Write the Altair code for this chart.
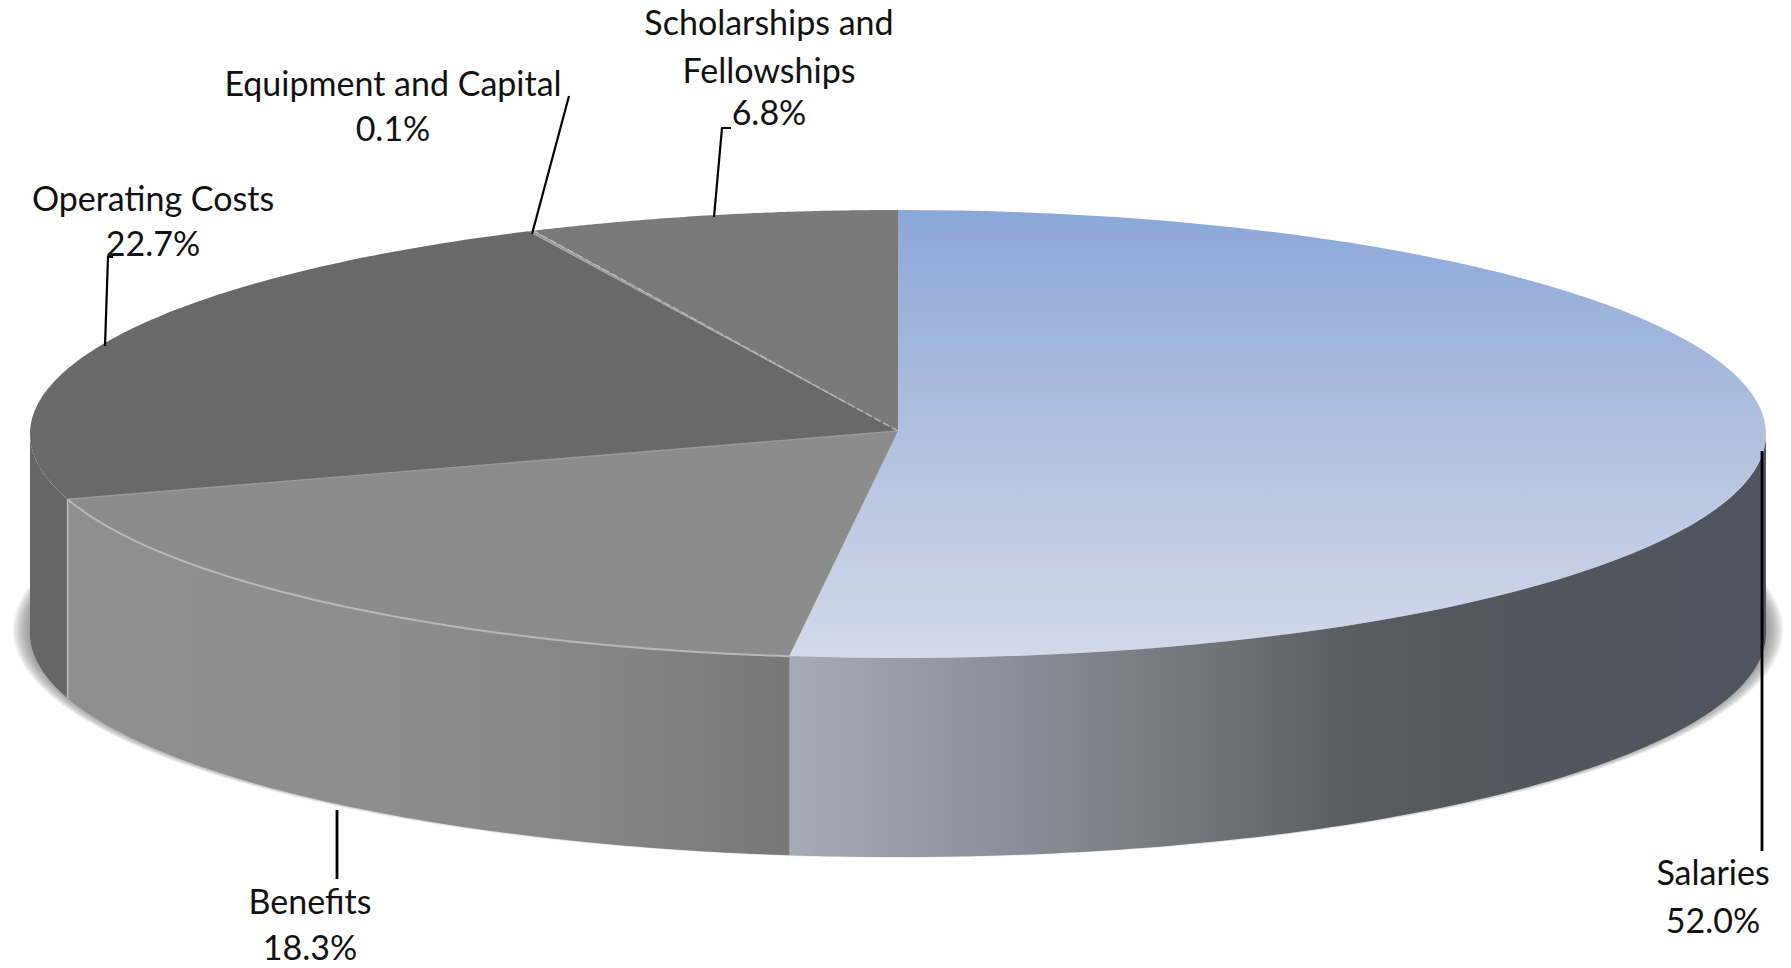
import numpy as np
import pandas as pd
import altair as alt

# --- chart data (clockwise from 12 o'clock) ---
categories = ["Salaries", "Benefits", "Operating Costs", "Equipment and Capital", "Scholarships and Fellowships"]
shares = [52.0, 18.3, 22.7, 0.1, 6.8]
label_lines = [["Salaries"], ["Benefits"], ["Operating Costs"], ["Equipment and Capital"], ["Scholarships and", "Fellowships"]]

# --- layout, kept apart from the data ---
CX, CY, RX, RY, DEPTH, APEX_Y = 898.0, 434.0, 868.0, 224.0, 199.0, 431.0
label_anchor = [(1713, [885, 933]), (310, [914, 960]), (153, [211, 256]), (393, [96, 141]), (769, [35, 83, 125])]
leaders = [
    [(1762, 451), (1762, 851)],
    [(337, 810), (337, 879)],
    [(105, 346), (108, 257), (113, 257)],
    [(532, 234), (569, 96)],
    [(714, 217), (722, 128), (731, 128)],
]

X = alt.X("x:Q", scale=alt.Scale(domain=[8, 1783]), axis=None)
Y = alt.Y("y:Q", scale=alt.Scale(domain=[968, 8]), axis=None)


def rim(a, b, dy=0.0, rx=RX, ry=RY, cy=CY, n=90):
    t = np.radians(np.linspace(a, b, n))
    return list(zip(CX + rx * np.sin(t), cy - ry * np.cos(t) + dy))


def shape(points, fill, opacity=1.0, stroke=None, width=0.0):
    df = pd.DataFrame(points, columns=["x", "y"])
    df["i"] = range(len(df))
    kw = dict(fill=fill, strokeWidth=width, opacity=opacity)
    if stroke:
        kw["stroke"] = stroke
    return alt.Chart(df).mark_line(**kw).encode(x=X, y=Y, order="i:Q")


def path(points, color, width=2.0, dash=None):
    df = pd.DataFrame(points, columns=["x", "y"])
    df["i"] = range(len(df))
    kw = dict(color=color, strokeWidth=width)
    if dash:
        kw["strokeDash"] = dash
    return alt.Chart(df).mark_line(**kw).encode(x=X, y=Y, order="i:Q")


def hgrad(stops):
    return alt.Gradient(gradient="linear", x1=0, x2=1, y1=0, y2=0,
                        stops=[alt.GradientStop(offset=o, color=c) for o, c in stops])


def vgrad(stops):
    return alt.Gradient(gradient="linear", x1=0, x2=0, y1=0, y2=1,
                        stops=[alt.GradientStop(offset=o, color=c) for o, c in stops])


edges = np.concatenate([[0.0], np.cumsum(shares) * 3.6])
edges[-1] = 360.0  # the printed shares add up to 99.9%
a = {c: (edges[i], edges[i + 1]) for i, c in enumerate(categories)}
apex = (CX, APEX_Y)
layers = []

# soft shadow under the disc
for k in range(9):
    g = 17 - k * 2.0
    layers.append(shape(rim(0, 360, rx=RX + g, ry=RY + g * 0.22, cy=CY + DEPTH - 3, n=240), "#6a6a6a", opacity=0.11))

# side walls
def wall(s, e, fill):
    top = rim(s, e)
    return shape(top + [(x, y + DEPTH) for x, y in reversed(top)], fill, stroke=None)

sal, ben, ope, equ, sch = [a[c] for c in categories]
layers.append(wall(90, sal[1], hgrad([(0, "#a6abb7"), (0.24, "#888d97"), (0.42, "#72767b"), (0.57, "#5a5e62"), (0.71, "#53575e"), (1, "#50545f")])))
layers.append(wall(sal[1], ben[1], hgrad([(0, "#8f8f8f"), (0.45, "#8d8d8d"), (0.75, "#858585"), (1, "#777777")])))
layers.append(wall(ben[1], 270, "#666666"))

# top faces
layers.append(shape([apex] + rim(*ope), "#696969"))
layers.append(shape([apex] + rim(*sch), "#7a7a7a"))
layers.append(shape([apex] + rim(*ben), "#8c8c8c"))
layers.append(shape([apex] + rim(*sal), vgrad([(0, "#8ba7da"), (0.45, "#adbedd"), (1, "#d2d9ea")])))
layers.append(shape([apex] + rim(*equ, n=5), "#9c9c9c"))

# pale seams
layers.append(path(rim(*ben), "#b8b8b8", 2.0))
layers.append(path([apex, rim(ben[1], ben[1], n=1)[0]], "#9a9a9a", 1.4))
bx, by = rim(ben[1], ben[1], n=1)[0]
layers.append(path([(bx, by), (bx, by + DEPTH)], "#bdbdbd", 1.5))
ex, ey = rim(equ[1], equ[1], n=1)[0]
layers.append(path([apex, (ex, ey)], "#b5b5b5", 1.5, dash=[7, 3]))

# leader lines
for i, pts in enumerate(leaders):
    layers.append(path(pts, "#000000", 2.8 if i < 2 else 2.2))

# labels
rows = []
for lines, v, (lx, ys) in zip(label_lines, shares, label_anchor):
    for text, ly in zip(lines + [f"{v:.1f}%"], ys):
        rows.append({"x": lx, "y": ly, "t": text})
layers.append(
    alt.Chart(pd.DataFrame(rows))
    .mark_text(font="Lato", fontSize=34, align="center", baseline="alphabetic", color="#111111")
    .encode(x=X, y=Y, text="t:N")
)

chart = (
    alt.layer(*layers)
    .properties(width=1775, height=960, padding=0,
                autosize=alt.AutoSizeParams(type="none"))
    .configure_view(stroke=None)
)
chart.save("out.html", embed_options={"renderer": "svg", "actions": False})
